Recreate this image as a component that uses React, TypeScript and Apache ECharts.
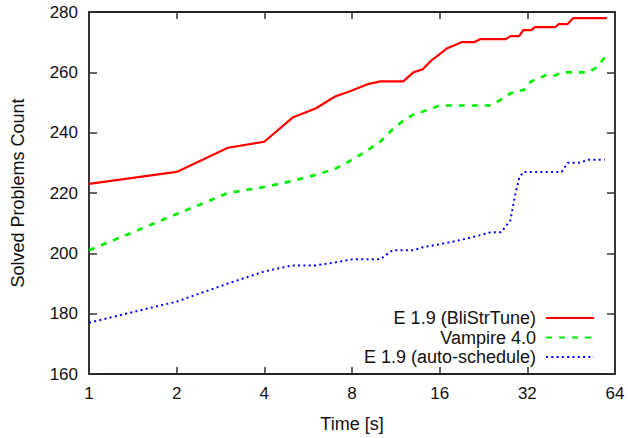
import React, { useEffect, useRef } from "react";
import * as echarts from "echarts";

// Tick values
const xTickValues = [1, 2, 4, 8, 16, 32, 64];
const yMin = 160;
const yMax = 280;
const yStep = 20;

// Series names
const seriesNames = ["E 1.9 (BliStrTune)", "Vampire 4.0", "E 1.9 (auto-schedule)"];

// E 1.9 (BliStrTune)
const bliTimes = [1, 2, 3, 4, 5, 6, 7, 8, 9, 10, 12, 13, 14, 15, 16, 17, 18, 19, 21, 22, 27, 28, 30, 31, 33, 34, 40, 41, 44, 46, 60];
const bliSolved = [223, 227, 235, 237, 245, 248, 252, 254, 256, 257, 257, 260, 261, 264, 266, 268, 269, 270, 270, 271, 271, 272, 272, 274, 274, 275, 275, 276, 276, 278, 278];

// Vampire 4.0
const vampTimes = [1, 2, 3, 4, 5, 6, 7, 8, 9, 10, 11, 12, 13, 14, 15, 16, 24, 25, 27, 28, 30, 31, 33, 35, 37, 40, 42, 52, 54, 56, 58, 60];
const vampSolved = [201, 213, 220, 222, 224, 226, 228, 231, 234, 237, 241, 244, 246, 247, 248, 249, 249, 250, 252, 253, 254, 254, 257, 258, 259, 259, 260, 260, 261, 262, 264, 266];

// E 1.9 (auto-schedule)
const autoTimes = [1, 2, 3, 4, 5, 6, 7, 8, 10, 11, 13, 14, 16, 18, 20, 22, 24, 26, 27, 28, 29, 30, 31, 42, 44, 48, 52, 59];
const autoSolved = [177, 184, 190, 194, 196, 196, 197, 198, 198, 201, 201, 202, 203, 204, 205, 206, 207, 207, 209, 211, 219, 225, 227, 227, 230, 230, 231, 231];

const FONT = "'Liberation Sans', Arial, Helvetica, sans-serif";
const AXIS_COLOR = "#222";

function zip(xs: number[], ys: number[]) {
  return xs.map((x, i) => [x, ys[i]]);
}

export default function App() {
  const ref = useRef<HTMLDivElement>(null);

  useEffect(() => {
    if (!ref.current) return;
    const chart = echarts.init(ref.current, undefined, { renderer: "svg" });

    const axisLineStyle = { color: AXIS_COLOR, width: 1.8 };
    const tickStyle = { color: "#333", width: 1.5 };
    const labelStyle = { fontSize: 17, color: "#111", fontFamily: FONT };
    const bigLabelStyle = { fontSize: 18, color: "#111", fontFamily: FONT };

    const xBase = {
      type: "log" as const,
      logBase: 2,
      min: xTickValues[0],
      max: xTickValues[xTickValues.length - 1],
      splitNumber: xTickValues.length - 1,
      splitLine: { show: false },
      minorTick: { show: false },
      axisLine: { show: true, onZero: false, lineStyle: axisLineStyle },
      axisTick: { show: true, inside: true, length: 7, lineStyle: tickStyle },
    };
    const yBase = {
      type: "value" as const,
      min: yMin,
      max: yMax,
      interval: yStep,
      splitLine: { show: false },
      axisLine: { show: true, onZero: false, lineStyle: axisLineStyle },
      axisTick: { show: true, inside: true, length: 8, lineStyle: tickStyle },
    };

    chart.setOption({
      animation: false,
      backgroundColor: "#ffffff",
      textStyle: { fontFamily: FONT },
      grid: { left: 89, right: 13, top: 12, bottom: 61, containLabel: false },
      xAxis: [
        {
          ...xBase,
          position: "bottom",
          axisLabel: { ...labelStyle, margin: 11 },
          name: "Time [s]",
          nameLocation: "middle",
          nameGap: 41,
          nameTextStyle: { ...bigLabelStyle },
        },
        {
          ...xBase,
          position: "top",
          axisLabel: { show: false },
        },
      ],
      yAxis: [
        {
          ...yBase,
          position: "left",
          axisLabel: { ...labelStyle, margin: 11 },
          name: "Solved Problems Count",
          nameLocation: "middle",
          nameGap: 62,
          nameTextStyle: { ...bigLabelStyle },
        },
        {
          ...yBase,
          position: "right",
          axisLabel: { show: false },
        },
      ],
      legend: {
        orient: "vertical",
        align: "right",
        right: 33,
        top: 309,
        itemWidth: 48,
        itemHeight: 12,
        itemGap: 1.5,
        padding: 0,
        selectedMode: false,
        itemStyle: { opacity: 0 },
        textStyle: { ...bigLabelStyle, padding: [0, 5, 0, 0] },
        data: seriesNames,
      },
      series: [
        {
          name: seriesNames[0],
          type: "line",
          data: zip(bliTimes, bliSolved),
          symbol: "none",
          lineStyle: { color: "#ff0000", width: 2.2, type: "solid" },
          itemStyle: { color: "#ff0000" },
          z: 3,
        },
        {
          name: seriesNames[1],
          type: "line",
          data: zip(vampTimes, vampSolved),
          symbol: "none",
          lineStyle: { color: "#00ee00", width: 2.7, type: [6, 7] },
          itemStyle: { color: "#00ee00" },
          z: 2,
        },
        {
          name: seriesNames[2],
          type: "line",
          data: zip(autoTimes, autoSolved),
          symbol: "none",
          lineStyle: { color: "#0000ff", width: 2, type: [2, 3.3] },
          itemStyle: { color: "#0000ff" },
          z: 1,
        },
      ],
    });

    return () => chart.dispose();
  }, []);

  return (
    <div
      ref={ref}
      style={{ position: "fixed", left: 0, top: 0, width: 628, height: 438, background: "#fff" }}
    />
  );
}
